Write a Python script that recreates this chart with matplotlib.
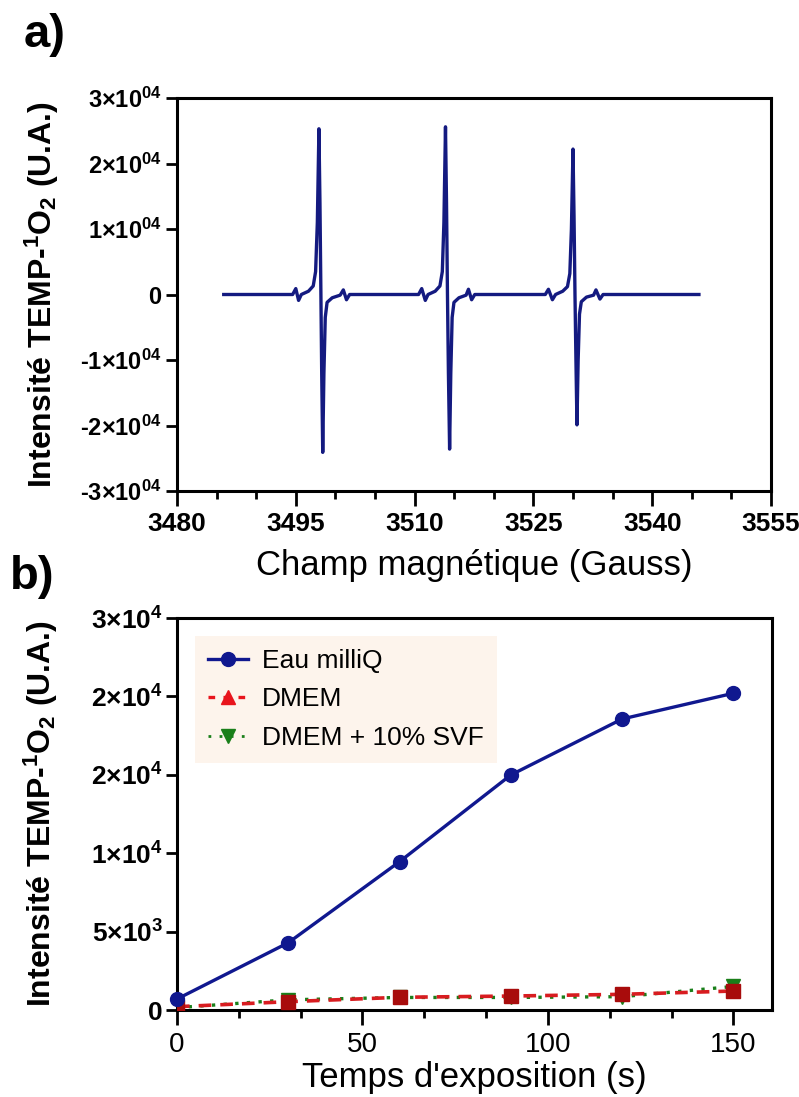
import matplotlib
matplotlib.use("Agg")
import matplotlib.pyplot as plt
from matplotlib.lines import Line2D
from matplotlib.ticker import MultipleLocator, FixedLocator, FixedFormatter

plt.rcParams['font.family'] = ['Liberation Sans', 'DejaVu Sans']
plt.rcParams['mathtext.fontset'] = 'custom'
plt.rcParams['mathtext.rm'] = 'Liberation Sans'
plt.rcParams['mathtext.bf'] = 'Liberation Sans:bold'
plt.rcParams['mathtext.it'] = 'Liberation Sans:italic'

# ---------------- panel a : EPR spectrum ----------------
FIELD_G = [3485.9, 3494.6, 3495.0, 3495.35, 3495.7, 3496.6, 3497.2, 3497.5, 3497.72,
           3497.92, 3498.05, 3498.17, 3498.27, 3498.4, 3498.55, 3498.72, 3498.95, 3499.6,
           3500.6, 3501.0, 3501.4, 3501.8,
           3510.5, 3510.9, 3511.35, 3511.7, 3512.6, 3513.2, 3513.5, 3513.7,
           3513.9, 3514.03, 3514.15, 3514.27, 3514.42, 3514.57, 3514.74, 3514.97, 3515.6,
           3516.5, 3516.8, 3517.2, 3517.6,
           3526.5, 3526.9, 3527.4, 3527.8, 3528.7, 3529.3, 3529.6, 3529.8,
           3530.0, 3530.13, 3530.25, 3530.37, 3530.5, 3530.65, 3530.82, 3531.05, 3531.7,
           3532.6, 3532.9, 3533.4, 3533.8, 3545.9]
SIGNAL = [0, 0, 900, -900, 0, 500, 1300, 3500, 11000,
          25300, 14000, 0, -12000, -24100, -12000, -3500, -1200, -500,
          -100, 700, -800, 0,
          0, 900, -900, 0, 500, 1300, 3500, 11000,
          25600, 14000, 0, -12000, -23600, -12000, -3500, -1200, -500,
          -100, 800, -800, 0,
          0, 800, -800, 0, 500, 1200, 3200, 10000,
          22200, 12000, 0, -10000, -19900, -10000, -3000, -1100, -400,
          -100, 700, -700, 0, 0]

A_YTICKS = [-30000, -20000, -10000, 0, 10000, 20000, 30000]
A_YLABELS = ["-3×10$^{\\mathbf{04}}$", "-2×10$^{\\mathbf{04}}$", "-1×10$^{\\mathbf{04}}$", "0",
             "1×10$^{\\mathbf{04}}$", "2×10$^{\\mathbf{04}}$", "3×10$^{\\mathbf{04}}$"]
A_XTICKS = [3480, 3495, 3510, 3525, 3540, 3555]

# ---------------- panel b : kinetics ----------------
TIME_S = [0, 30, 60, 90, 120, 150]
EAU_MILLIQ = [700, 4290, 9460, 14990, 18560, 20200]
DMEM = [210, 530, 810, 890, 1000, 1210]
DMEM_SVF = [150, 650, 800, 800, 850, 1500]

B_YTICKS = [0, 5000, 10000, 15000, 20000, 25000]
B_YLABELS = ["0", "5×10$^{\\mathbf{3}}$", "1×10$^{\\mathbf{4}}$",
             "2×10$^{\\mathbf{4}}$", "2×10$^{\\mathbf{4}}$", "3×10$^{\\mathbf{4}}$"]
B_XTICKS = [0, 50, 100, 150]

YLABEL = r"Intensité TEMP-$\mathbf{^{1}}$O$\mathbf{_{2}}$ (U.A.)"

NAVY = '#141a80'
W, H = 799, 1097

fig = plt.figure(figsize=(W / 100, H / 100), dpi=100)

# ---- panel a
ax_a = fig.add_axes([177 / W, 1 - 491 / H, 594 / W, 393 / H])
ax_a.plot(FIELD_G, SIGNAL, color=NAVY, lw=2.4, solid_joinstyle='round')
ax_a.set_xlim(3480, 3555)
ax_a.set_ylim(-30000, 30000)
ax_a.xaxis.set_major_locator(FixedLocator(A_XTICKS))
ax_a.xaxis.set_minor_locator(MultipleLocator(5))
ax_a.yaxis.set_major_locator(FixedLocator(A_YTICKS))
ax_a.yaxis.set_major_formatter(FixedFormatter(A_YLABELS))
ax_a.tick_params(axis='y', which='major', length=8, width=2, labelsize=17, pad=3)
ax_a.tick_params(axis='x', which='major', length=11, width=2, labelsize=19, pad=4)
ax_a.tick_params(axis='x', which='minor', length=6, width=2)
for lab in ax_a.get_xticklabels() + ax_a.get_yticklabels():
    lab.set_fontweight('bold')
for sp in ax_a.spines.values():
    sp.set_linewidth(2.2)
ax_a.set_xlabel("Champ magnétique (Gauss)", fontsize=25)
ax_a.xaxis.set_label_coords(0.5, -0.148)
ax_a.set_ylabel(YLABEL, fontsize=23, fontweight='bold')
ax_a.yaxis.set_label_coords(-0.196, 0.5)
fig.text(24 / W, 1 - 35 / H, "a)", fontsize=34, fontweight='bold', va='center', ha='left')

# ---- panel b
ax_b = fig.add_axes([177 / W, 1 - 1010 / H, 595 / W, 392 / H])
ax_b.plot(TIME_S, DMEM_SVF, color='#1a7f1a', lw=2.4, ls=(0, (1, 2.5)),
          marker='v', ms=10, mfc='#1a7f1a', mec='#1a7f1a', zorder=2)
ax_b.plot(TIME_S, DMEM, color='#d81c20', lw=2.6, ls=(0, (3.5, 2.5)),
          marker='s', ms=10, mfc='#a80c0c', mec='#a80c0c', zorder=3)
ax_b.plot(TIME_S, EAU_MILLIQ, color='#10188f', lw=2.4,
          marker='o', ms=10, mfc='#10188f', mec='#10188f', zorder=4, clip_on=False)
ax_b.set_xlim(0, 160.4)
ax_b.set_ylim(0, 25000)
ax_b.xaxis.set_major_locator(FixedLocator(B_XTICKS))
ax_b.xaxis.set_minor_locator(MultipleLocator(50 / 3))
ax_b.yaxis.set_major_locator(FixedLocator(B_YTICKS))
ax_b.yaxis.set_major_formatter(FixedFormatter(B_YLABELS))
ax_b.tick_params(axis='y', which='major', length=8, width=2, labelsize=19, pad=2)
ax_b.tick_params(axis='x', which='major', length=11, width=2, labelsize=20, pad=5)
ax_b.tick_params(axis='x', which='minor', length=6, width=2)
for lab in ax_b.get_yticklabels():
    lab.set_fontweight('bold')
for sp in ax_b.spines.values():
    sp.set_linewidth(2.2)
ax_b.set_xlabel("Temps d'exposition (s)", fontsize=25)
ax_b.xaxis.set_label_coords(0.5, -0.13)
ax_b.set_ylabel(YLABEL, fontsize=23, fontweight='bold')
ax_b.yaxis.set_label_coords(-0.196, 0.5)
fig.text(10 / W, 1 - 577 / H, "b)", fontsize=34, fontweight='bold', va='center', ha='left')

handles = [
    Line2D([], [], color='#10188f', lw=2.4, marker='o', ms=10),
    Line2D([], [], color='#e8141c', lw=2.4, ls=(0, (2, 2.5)), marker='^', ms=10),
    Line2D([], [], color='#1a7f1a', lw=2.0, ls=(0, (1, 3)), marker='v', ms=10),
]
leg = ax_b.legend(handles, ["Eau milliQ", "DMEM", "DMEM + 10% SVF"],
                  loc='upper left', bbox_to_anchor=(0.03, 0.955), fontsize=19,
                  frameon=True, fancybox=False, handlelength=1.5, handletextpad=0.55,
                  labelspacing=0.55, borderpad=0.5, borderaxespad=0)
leg.get_frame().set_facecolor('#fdf4ec')
leg.get_frame().set_edgecolor('none')
leg.get_frame().set_alpha(1)

fig.savefig("out.png", dpi=100)
